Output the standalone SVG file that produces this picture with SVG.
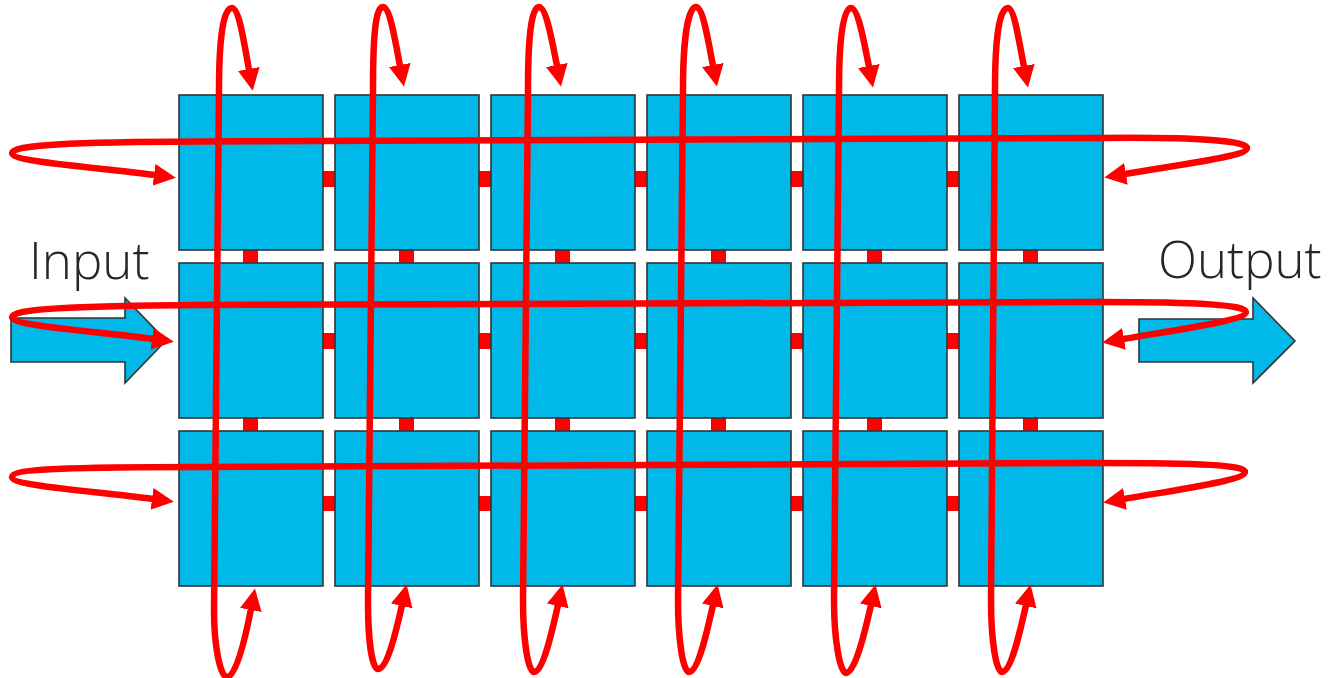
<svg xmlns="http://www.w3.org/2000/svg" width="1329" height="678" viewBox="0 0 1329 678">
<style>
.box{fill:#00B9E8;stroke:#333;stroke-width:1.6}
.link{fill:#FF0000}
.io{fill:#00B9E8;stroke:#333;stroke-width:1.6;stroke-linejoin:miter}
.loop{fill:none;stroke:#FF0000;stroke-width:6.5;stroke-linecap:butt;marker-start:url(#ah);marker-end:url(#ah)}
.lbl{font-family:"Open Sans","Noto Sans","Liberation Sans",sans-serif;font-weight:350;font-size:51px;fill:#262626}
</style>
<defs>
<marker id="ah" markerUnits="userSpaceOnUse" viewBox="0 0 22 22" markerWidth="22" markerHeight="22" refX="1" refY="11" orient="auto-start-reverse">
<path d="M0,0 L22,11 L0,22 z" fill="#FF0000"/>
</marker>
</defs>
<rect width="1329" height="678" fill="#FFFFFF"/>
<g id="links">
<rect class="link" x="323" y="171" width="12" height="16"/><rect class="link" x="479" y="171" width="12" height="16"/><rect class="link" x="635" y="171" width="12" height="16"/><rect class="link" x="791" y="171" width="12" height="16"/><rect class="link" x="947" y="171" width="12" height="16"/>
<rect class="link" x="323" y="333" width="12" height="16"/><rect class="link" x="479" y="333" width="12" height="16"/><rect class="link" x="635" y="333" width="12" height="16"/><rect class="link" x="791" y="333" width="12" height="16"/><rect class="link" x="947" y="333" width="12" height="16"/>
<rect class="link" x="323" y="496" width="12" height="15"/><rect class="link" x="479" y="496" width="12" height="15"/><rect class="link" x="635" y="496" width="12" height="15"/><rect class="link" x="791" y="496" width="12" height="15"/><rect class="link" x="947" y="496" width="12" height="15"/>
<rect class="link" x="243" y="250" width="15" height="13"/><rect class="link" x="399" y="250" width="15" height="13"/><rect class="link" x="555" y="250" width="15" height="13"/><rect class="link" x="711" y="250" width="15" height="13"/><rect class="link" x="867" y="250" width="15" height="13"/><rect class="link" x="1023" y="250" width="15" height="13"/>
<rect class="link" x="243" y="418" width="15" height="13"/><rect class="link" x="399" y="418" width="15" height="13"/><rect class="link" x="555" y="418" width="15" height="13"/><rect class="link" x="711" y="418" width="15" height="13"/><rect class="link" x="867" y="418" width="15" height="13"/><rect class="link" x="1023" y="418" width="15" height="13"/>
</g>
<g id="n11"><rect class="box" x="179" y="95" width="144" height="155"/></g>
<g id="n12"><rect class="box" x="335" y="95" width="144" height="155"/></g>
<g id="n13"><rect class="box" x="491" y="95" width="144" height="155"/></g>
<g id="n14"><rect class="box" x="647" y="95" width="144" height="155"/></g>
<g id="n15"><rect class="box" x="803" y="95" width="144" height="155"/></g>
<g id="n16"><rect class="box" x="959" y="95" width="144" height="155"/></g>
<g id="n21"><rect class="box" x="179" y="263" width="144" height="155"/></g>
<g id="n22"><rect class="box" x="335" y="263" width="144" height="155"/></g>
<g id="n23"><rect class="box" x="491" y="263" width="144" height="155"/></g>
<g id="n24"><rect class="box" x="647" y="263" width="144" height="155"/></g>
<g id="n25"><rect class="box" x="803" y="263" width="144" height="155"/></g>
<g id="n26"><rect class="box" x="959" y="263" width="144" height="155"/></g>
<g id="n31"><rect class="box" x="179" y="431" width="144" height="155"/></g>
<g id="n32"><rect class="box" x="335" y="431" width="144" height="155"/></g>
<g id="n33"><rect class="box" x="491" y="431" width="144" height="155"/></g>
<g id="n34"><rect class="box" x="647" y="431" width="144" height="155"/></g>
<g id="n35"><rect class="box" x="803" y="431" width="144" height="155"/></g>
<g id="n36"><rect class="box" x="959" y="431" width="144" height="155"/></g>
<g id="input">
<polygon class="io" points="11,318 125,318 125,298 166,340.5 125,383 125,362 11,362"/>
<text class="lbl" x="29" y="279">Input</text>
</g>
<g id="output">
<polygon class="io" points="1139,319 1253,319 1253,298 1295,341 1253,383 1253,362 1139,362"/>
<text class="lbl" x="1158" y="278">Output</text>
</g>
<g id="connectors">
<path class="loop" d="M155 175 C95 167 12 162 12 153 C12 145 70 142 200 141.5 L1100 138 C1200 137 1247 141 1247 148 C1247 156 1190 163 1125 174"/>
<path class="loop" d="M153 339 C93 331 12 326 12 317 C12 309 70 306 200 305 L1100 302 C1200 302 1246 305 1246 312 C1246 320 1188 328 1123 339"/>
<path class="loop" d="M153 499 C93 491 12 486 12 477 C12 469 70 467 200 467 L1100 463 C1200 463 1245 465 1245 472 C1245 480 1188 488 1124 499"/>
<path class="loop" d="M249 70 C244 42 239 8 232 8 C223 8 219 40 219 90 L214 610 C214 645 220 677 227 677 C236 677 245 640 251 609"/>
<path class="loop" d="M400 66 C395 40 390 7 383 7 C375 7 373 40 373 90 L368 600 C368 640 372 669 378 669 C387 669 396 632 402 605"/>
<path class="loop" d="M557 66 C552 40 546 7 539 7 C531 7 528 40 528 90 L523 600 C523 640 528 672 534 672 C543 672 552 632 558 605"/>
<path class="loop" d="M713 66 C708 40 703 7 696 7 C688 7 683 40 683 90 L678 600 C678 640 683 672 689 672 C698 672 707 632 713 605"/>
<path class="loop" d="M869 67 C864 41 858 8 851 8 C843 8 839 40 839 90 L834 600 C834 640 840 673 846 673 C855 673 865 632 871 605"/>
<path class="loop" d="M1024 67 C1019 41 1014 8 1008 8 C999 8 995 40 995 90 L991 600 C991 640 996 672 1002 672 C1011 672 1020 632 1026 605"/>
</g>
</svg>
